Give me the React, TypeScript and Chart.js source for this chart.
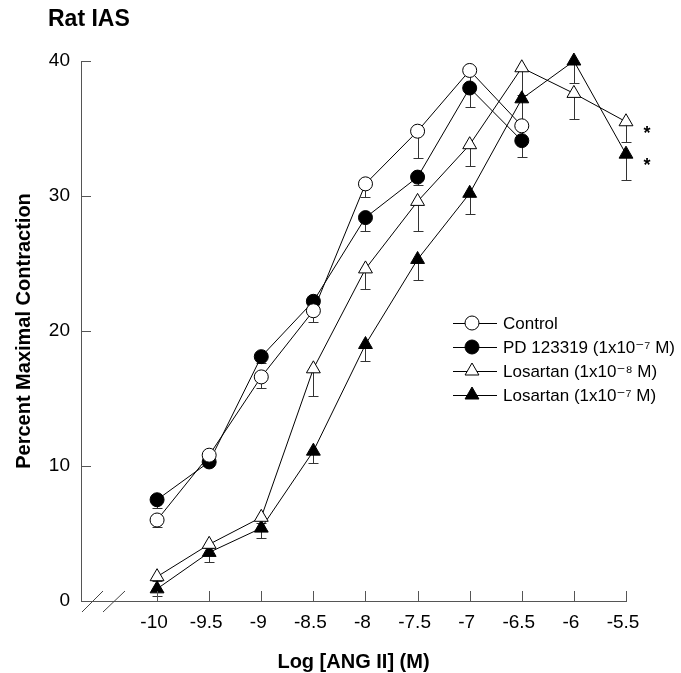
import React, { useEffect, useRef } from "react";
import { Chart, registerables } from "chart.js";

Chart.register(...registerables);

// ---------- data ----------
const LOG_DOSE = [-10, -9.5, -9, -8.5, -8, -7.5, -7, -6.5, -6, -5.5];
const X_TICKS = [-10, -9.5, -9, -8.5, -8, -7.5, -7, -6.5, -6, -5.5];
const Y_TICKS = [0, 10, 20, 30, 40];

const CONTROL = [6.0, 10.8, 16.6, 21.5, 30.9, 34.8, 39.3, 35.2];
const CONTROL_SEM = [0.5, 0.3, 0.8, 0.8, 1.0, 2.0, 1.0, 1.0];
const PD = [7.5, 10.3, 18.1, 22.2, 28.4, 31.4, 38.0, 34.1];
const PD_SEM = [0.6, 0.3, 0.5, 0.5, 1.0, 0.6, 1.4, 1.2];
const LOS8 = [1.8, 4.2, 6.2, 17.2, 24.6, 29.6, 33.8, 39.5, 37.6, 35.5];
const LOS8_SEM = [0.3, 0.3, 0.4, 2.0, 1.5, 2.2, 1.6, 2.0, 1.9, 1.5];
const LOS7 = [0.9, 3.6, 5.4, 11.1, 19.0, 25.3, 30.2, 37.2, 40.0, 33.1];
const LOS7_SEM = [0.5, 0.7, 0.7, 0.9, 1.2, 1.5, 1.5, 2.0, 1.6, 1.9];

const SERIES_LABELS = [
  "Control",
  "PD 123319 (1x10\u207B\u2077 M)",
  "Losartan (1x10\u207B\u2078 M)",
  "Losartan (1x10\u207B\u2077 M)",
];
const SIGNIFICANT = [false, false, true, true];
const SIG_MARK = "*";

const TITLE = "Rat IAS";
const X_TITLE = "Log [ANG II] (M)";
const Y_TITLE = "Percent Maximal Contraction";

const FONT = "'Liberation Sans', Arial, 'DejaVu Sans', sans-serif";

const SERIES_VALUES = [CONTROL, PD, LOS8, LOS7];
const SERIES_SEM = [CONTROL_SEM, PD_SEM, LOS8_SEM, LOS7_SEM];
const SERIES_STYLE = [
  { shape: "circle", fill: "#ffffff" },
  { shape: "circle", fill: "#000000" },
  { shape: "triangle", fill: "#ffffff" },
  { shape: "triangle", fill: "#000000" },
];

function drawMarker(ctx: CanvasRenderingContext2D, shape: string, fill: string, x: number, y: number) {
  ctx.save();
  ctx.beginPath();
  if (shape === "circle") {
    ctx.arc(x, y, 7, 0, Math.PI * 2);
  } else {
    const r = 8;
    ctx.moveTo(x, y - r);
    ctx.lineTo(x + r * Math.sin((2 * Math.PI) / 3), y - r * Math.cos((2 * Math.PI) / 3));
    ctx.lineTo(x + r * Math.sin((4 * Math.PI) / 3), y - r * Math.cos((4 * Math.PI) / 3));
    ctx.closePath();
  }
  ctx.fillStyle = fill;
  ctx.fill();
  ctx.lineWidth = 1;
  ctx.strokeStyle = "#000";
  ctx.stroke();
  ctx.restore();
}

const decorPlugin = {
  id: "decor",
  beforeDatasetsDraw(chart: any) {
    const ctx = chart.ctx as CanvasRenderingContext2D;
    const ys = chart.scales.y;
    ctx.save();
    ctx.strokeStyle = "#333";
    ctx.lineWidth = 1;
    SERIES_VALUES.forEach((vals, i) => {
      const meta = chart.getDatasetMeta(i);
      vals.forEach((v, j) => {
        const pt = meta.data[j];
        if (!pt) return;
        const x = Math.round(pt.x) + 0.5;
        const y0 = ys.getPixelForValue(v);
        const y1 = Math.round(ys.getPixelForValue(v - SERIES_SEM[i][j])) + 0.5;
        ctx.beginPath();
        ctx.moveTo(x, y0);
        ctx.lineTo(x, y1);
        ctx.moveTo(x - 5, y1);
        ctx.lineTo(x + 5, y1);
        ctx.stroke();
      });
    });
    ctx.restore();
  },
  afterDraw(chart: any) {
    const ctx = chart.ctx as CanvasRenderingContext2D;
    const xs = chart.scales.x;
    const ys = chart.scales.y;
    const area = chart.chartArea;
    ctx.save();
    // inward tick marks
    ctx.strokeStyle = "#555";
    ctx.lineWidth = 1;
    ctx.beginPath();
    Y_TICKS.forEach((t) => {
      const y = Math.round(ys.getPixelForValue(t)) + 0.5;
      ctx.moveTo(area.left, y);
      ctx.lineTo(area.left + 10, y);
    });
    X_TICKS.forEach((t) => {
      const x = Math.round(xs.getPixelForValue(t)) + 0.5;
      ctx.moveTo(x, area.bottom);
      ctx.lineTo(x, area.bottom - 10);
    });
    ctx.stroke();

    // axis break slashes
    ctx.strokeStyle = "#444";
    ctx.beginPath();
    const b = area.bottom;
    ctx.moveTo(area.left + 1, b + 11);
    ctx.lineTo(area.left + 22, b - 10);
    ctx.moveTo(area.left + 22, b + 11);
    ctx.lineTo(area.left + 44, b - 10);
    ctx.stroke();

    // title
    ctx.fillStyle = "#000";
    ctx.font = `bold 23px ${FONT}`;
    ctx.textAlign = "left";
    ctx.textBaseline = "middle";
    ctx.fillText(TITLE, 48, 20);

    // legend
    const legX0 = 453;
    const legX1 = 497;
    const legMarker = 472;
    const legText = 503;
    const legY = [323, 347, 371, 395];
    ctx.font = `17px ${FONT}`;
    SERIES_LABELS.forEach((label, i) => {
      const y = legY[i];
      ctx.strokeStyle = "#000";
      ctx.lineWidth = 1;
      ctx.beginPath();
      ctx.moveTo(legX0, y + 0.5);
      ctx.lineTo(legX1, y + 0.5);
      ctx.stroke();
      drawMarker(ctx, SERIES_STYLE[i].shape, SERIES_STYLE[i].fill, legMarker, y);
      ctx.fillStyle = "#000";
      ctx.textBaseline = "middle";
      ctx.fillText(label, legText, y + 1);
    });

    // significance marks
    ctx.font = `bold 18px ${FONT}`;
    ctx.textBaseline = "alphabetic";
    ctx.textAlign = "center";
    SERIES_VALUES.forEach((vals, i) => {
      if (!SIGNIFICANT[i]) return;
      const j = vals.length - 1;
      const x = xs.getPixelForValue(LOG_DOSE[j]) + 21;
      const y = ys.getPixelForValue(vals[j]) + 17;
      ctx.fillText(SIG_MARK, x, y);
    });
    ctx.restore();
  },
};

export default function App() {
  const ref = useRef<HTMLCanvasElement | null>(null);
  useEffect(() => {
    if (!ref.current) return;
    const datasets = SERIES_VALUES.map((vals, i) => ({
      label: SERIES_LABELS[i],
      data: vals.map((v, j) => ({ x: LOG_DOSE[j], y: v })),
      borderColor: "#000",
      borderWidth: 1,
      pointStyle: SERIES_STYLE[i].shape,
      pointRadius: SERIES_STYLE[i].shape === "circle" ? 7 : 8,
      pointBackgroundColor: SERIES_STYLE[i].fill,
      pointBorderColor: "#000",
      pointBorderWidth: 1,
      showLine: true,
      fill: false,
      tension: 0,
      clip: false,
    }));
    const chart = new Chart(ref.current, {
      type: "scatter",
      data: { datasets },
      plugins: [decorPlugin],
      options: {
        animation: false,
        responsive: false,
        devicePixelRatio: 1,
        clip: false,
        layout: { padding: { top: 61, right: 55, left: 0, bottom: 0 } },
        plugins: {
          legend: { display: false },
          tooltip: { enabled: false },
          title: { display: false },
        },
        scales: {
          x: {
            type: "linear",
            min: -10.73,
            max: -5.5,
            afterBuildTicks: (s: any) => {
              s.ticks = X_TICKS.map((v) => ({ value: v }));
            },
            afterFit: (s: any) => {
              s.height = 72;
            },
            grid: { display: false, drawTicks: false },
            border: { display: true, color: "#555", width: 1 },
            ticks: {
              padding: 10,
              labelOffset: -3,
              autoSkip: false,
              maxRotation: 0,
              color: "#000",
              font: { family: FONT, size: 19 },
              callback: (v: any) => String(v),
            },
            title: {
              display: true,
              text: X_TITLE,
              color: "#000",
              font: { family: FONT, size: 20, weight: "bold" },
              padding: { top: 0, bottom: -1 },
            },
          },
          y: {
            min: 0,
            max: 40,
            afterBuildTicks: (s: any) => {
              s.ticks = Y_TICKS.map((v) => ({ value: v }));
            },
            afterFit: (s: any) => {
              s.width = 81;
            },
            grid: { display: false, drawTicks: false },
            border: { display: true, color: "#555", width: 1 },
            ticks: {
              padding: 11,
              color: "#000",
              font: { family: FONT, size: 19 },
              callback: (v: any) => String(v),
            },
            title: {
              display: true,
              text: Y_TITLE,
              color: "#000",
              font: { family: FONT, size: 20, weight: "bold" },
              padding: { top: 12, bottom: 0 },
            },
          },
        },
      } as any,
    });
    return () => chart.destroy();
  }, []);
  return (
    <div style={{ position: "absolute", left: 0, top: 0, width: 681, height: 673, background: "#fff" }}>
      <canvas ref={ref} width={681} height={673} style={{ display: "block" }} />
    </div>
  );
}
